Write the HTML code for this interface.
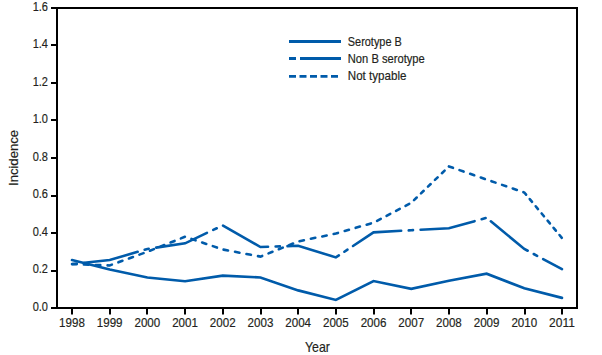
<!DOCTYPE html>
<html><head><meta charset="utf-8">
<style>
html,body{margin:0;padding:0;background:#fff;}
body{width:602px;height:355px;overflow:hidden;}
svg{display:block;}
text{font-family:"Liberation Sans",sans-serif;fill:#231f20;stroke:#231f20;stroke-width:0.18px;}
</style></head>
<body>
<svg width="602" height="355" viewBox="0 0 602 355">
<rect x="57" y="8" width="520" height="300" fill="none" stroke="#000" stroke-width="2"/>
<line x1="51" y1="8" x2="57" y2="8" stroke="#000" stroke-width="2"/>
<line x1="51" y1="45" x2="57" y2="45" stroke="#000" stroke-width="2"/>
<line x1="51" y1="83" x2="57" y2="83" stroke="#000" stroke-width="2"/>
<line x1="51" y1="120" x2="57" y2="120" stroke="#000" stroke-width="2"/>
<line x1="51" y1="158" x2="57" y2="158" stroke="#000" stroke-width="2"/>
<line x1="51" y1="196" x2="57" y2="196" stroke="#000" stroke-width="2"/>
<line x1="51" y1="233" x2="57" y2="233" stroke="#000" stroke-width="2"/>
<line x1="51" y1="271" x2="57" y2="271" stroke="#000" stroke-width="2"/>
<line x1="51" y1="308" x2="57" y2="308" stroke="#000" stroke-width="2"/>
<line x1="72" y1="308" x2="72" y2="314.5" stroke="#000" stroke-width="2"/>
<line x1="110" y1="308" x2="110" y2="314.5" stroke="#000" stroke-width="2"/>
<line x1="147" y1="308" x2="147" y2="314.5" stroke="#000" stroke-width="2"/>
<line x1="185" y1="308" x2="185" y2="314.5" stroke="#000" stroke-width="2"/>
<line x1="223" y1="308" x2="223" y2="314.5" stroke="#000" stroke-width="2"/>
<line x1="261" y1="308" x2="261" y2="314.5" stroke="#000" stroke-width="2"/>
<line x1="298" y1="308" x2="298" y2="314.5" stroke="#000" stroke-width="2"/>
<line x1="336" y1="308" x2="336" y2="314.5" stroke="#000" stroke-width="2"/>
<line x1="374" y1="308" x2="374" y2="314.5" stroke="#000" stroke-width="2"/>
<line x1="411" y1="308" x2="411" y2="314.5" stroke="#000" stroke-width="2"/>
<line x1="449" y1="308" x2="449" y2="314.5" stroke="#000" stroke-width="2"/>
<line x1="487" y1="308" x2="487" y2="314.5" stroke="#000" stroke-width="2"/>
<line x1="525" y1="308" x2="525" y2="314.5" stroke="#000" stroke-width="2"/>
<line x1="562" y1="308" x2="562" y2="314.5" stroke="#000" stroke-width="2"/>
<text x="48" y="10.8" text-anchor="end" font-size="13" textLength="15.3" lengthAdjust="spacingAndGlyphs">1.6</text>
<text x="48" y="48.3" text-anchor="end" font-size="13" textLength="15.3" lengthAdjust="spacingAndGlyphs">1.4</text>
<text x="48" y="85.8" text-anchor="end" font-size="13" textLength="15.3" lengthAdjust="spacingAndGlyphs">1.2</text>
<text x="48" y="123.3" text-anchor="end" font-size="13" textLength="15.3" lengthAdjust="spacingAndGlyphs">1.0</text>
<text x="48" y="160.8" text-anchor="end" font-size="13" textLength="15.3" lengthAdjust="spacingAndGlyphs">0.8</text>
<text x="48" y="198.3" text-anchor="end" font-size="13" textLength="15.3" lengthAdjust="spacingAndGlyphs">0.6</text>
<text x="48" y="235.8" text-anchor="end" font-size="13" textLength="15.3" lengthAdjust="spacingAndGlyphs">0.4</text>
<text x="48" y="273.3" text-anchor="end" font-size="13" textLength="15.3" lengthAdjust="spacingAndGlyphs">0.2</text>
<text x="48" y="310.8" text-anchor="end" font-size="13" textLength="15.3" lengthAdjust="spacingAndGlyphs">0.0</text>
<text x="72.00" y="327" text-anchor="middle" font-size="12.6" textLength="25.8" lengthAdjust="spacingAndGlyphs">1998</text>
<text x="109.69" y="327" text-anchor="middle" font-size="12.6" textLength="25.8" lengthAdjust="spacingAndGlyphs">1999</text>
<text x="147.38" y="327" text-anchor="middle" font-size="12.6" textLength="25.8" lengthAdjust="spacingAndGlyphs">2000</text>
<text x="185.08" y="327" text-anchor="middle" font-size="12.6" textLength="25.8" lengthAdjust="spacingAndGlyphs">2001</text>
<text x="222.77" y="327" text-anchor="middle" font-size="12.6" textLength="25.8" lengthAdjust="spacingAndGlyphs">2002</text>
<text x="260.46" y="327" text-anchor="middle" font-size="12.6" textLength="25.8" lengthAdjust="spacingAndGlyphs">2003</text>
<text x="298.15" y="327" text-anchor="middle" font-size="12.6" textLength="25.8" lengthAdjust="spacingAndGlyphs">2004</text>
<text x="335.85" y="327" text-anchor="middle" font-size="12.6" textLength="25.8" lengthAdjust="spacingAndGlyphs">2005</text>
<text x="373.54" y="327" text-anchor="middle" font-size="12.6" textLength="25.8" lengthAdjust="spacingAndGlyphs">2006</text>
<text x="411.23" y="327" text-anchor="middle" font-size="12.6" textLength="25.8" lengthAdjust="spacingAndGlyphs">2007</text>
<text x="448.92" y="327" text-anchor="middle" font-size="12.6" textLength="25.8" lengthAdjust="spacingAndGlyphs">2008</text>
<text x="486.62" y="327" text-anchor="middle" font-size="12.6" textLength="25.8" lengthAdjust="spacingAndGlyphs">2009</text>
<text x="524.31" y="327" text-anchor="middle" font-size="12.6" textLength="25.8" lengthAdjust="spacingAndGlyphs">2010</text>
<text x="562.00" y="327" text-anchor="middle" font-size="12.6" textLength="25.8" lengthAdjust="spacingAndGlyphs">2011</text>
<text x="317.5" y="351.7" text-anchor="middle" font-size="14.5" textLength="25" lengthAdjust="spacingAndGlyphs">Year</text>
<text transform="translate(17.5,158) rotate(-90)" x="0" y="0" text-anchor="middle" font-size="13.6" textLength="56" lengthAdjust="spacingAndGlyphs">Incidence</text>
<polyline points="72.00,260.00 109.69,269.56 147.38,277.44 185.08,281.28 222.77,275.66 260.46,277.44 298.15,290.38 335.85,299.94 373.54,281.00 411.23,288.88 448.92,280.81 486.62,273.69 524.31,288.31 562.00,297.88" fill="none" stroke="#005baa" stroke-width="2.6" stroke-linecap="round"/>
<polyline points="72.59,264.06 76.84,263.61" fill="none" stroke="#005baa" stroke-width="2.6" stroke-linecap="round"/>
<polyline points="84.36,262.80 109.69,260.09 137.66,251.81" fill="none" stroke="#005baa" stroke-width="2.6" stroke-linecap="round"/>
<polyline points="144.66,249.74 147.38,248.94 148.70,248.74" fill="none" stroke="#005baa" stroke-width="2.6" stroke-linecap="round"/>
<polyline points="156.13,247.63 185.08,243.31 206.93,232.93" fill="none" stroke="#005baa" stroke-width="2.6" stroke-linecap="round"/>
<polyline points="213.22,229.94 216.77,228.25" fill="none" stroke="#005baa" stroke-width="2.6" stroke-linecap="round"/>
<polyline points="223.04,225.56 260.46,247.06 268.04,246.80" fill="none" stroke="#005baa" stroke-width="2.6" stroke-linecap="round"/>
<polyline points="275.63,246.53 279.93,246.38" fill="none" stroke="#005baa" stroke-width="2.6" stroke-linecap="round"/>
<polyline points="287.52,246.12 298.15,245.75 335.85,257.38 338.87,255.37" fill="none" stroke="#005baa" stroke-width="2.6" stroke-linecap="round"/>
<polyline points="344.38,251.71 347.50,249.64" fill="none" stroke="#005baa" stroke-width="2.6" stroke-linecap="round"/>
<polyline points="353.01,245.97 373.54,232.34 401.15,230.76" fill="none" stroke="#005baa" stroke-width="2.6" stroke-linecap="round"/>
<polyline points="408.73,230.33 411.23,230.19 413.02,230.10" fill="none" stroke="#005baa" stroke-width="2.6" stroke-linecap="round"/>
<polyline points="420.60,229.72 448.92,228.31 474.57,221.17" fill="none" stroke="#005baa" stroke-width="2.6" stroke-linecap="round"/>
<polyline points="481.63,219.20 485.63,218.09" fill="none" stroke="#005baa" stroke-width="2.6" stroke-linecap="round"/>
<polyline points="490.84,221.30 524.31,248.94 527.68,250.75" fill="none" stroke="#005baa" stroke-width="2.6" stroke-linecap="round"/>
<polyline points="533.70,253.99 537.12,255.82" fill="none" stroke="#005baa" stroke-width="2.6" stroke-linecap="round"/>
<polyline points="543.14,259.06 562.00,269.19" fill="none" stroke="#005baa" stroke-width="2.6" stroke-linecap="round"/>
<polyline points="72.00,264.12 76.59,264.28" fill="none" stroke="#005baa" stroke-width="2.6" stroke-linecap="round"/>
<polyline points="83.86,264.54 88.45,264.70" fill="none" stroke="#005baa" stroke-width="2.6" stroke-linecap="round"/>
<polyline points="95.72,264.95 100.31,265.11" fill="none" stroke="#005baa" stroke-width="2.6" stroke-linecap="round"/>
<polyline points="107.58,265.36 109.69,265.44 111.90,264.64" fill="none" stroke="#005baa" stroke-width="2.6" stroke-linecap="round"/>
<polyline points="118.36,262.29 122.44,260.81" fill="none" stroke="#005baa" stroke-width="2.6" stroke-linecap="round"/>
<polyline points="128.90,258.46 132.98,256.98" fill="none" stroke="#005baa" stroke-width="2.6" stroke-linecap="round"/>
<polyline points="139.44,254.64 143.52,253.15" fill="none" stroke="#005baa" stroke-width="2.6" stroke-linecap="round"/>
<polyline points="149.93,250.74 153.93,249.15" fill="none" stroke="#005baa" stroke-width="2.6" stroke-linecap="round"/>
<polyline points="160.25,246.63 164.25,245.04" fill="none" stroke="#005baa" stroke-width="2.6" stroke-linecap="round"/>
<polyline points="170.57,242.52 174.57,240.93" fill="none" stroke="#005baa" stroke-width="2.6" stroke-linecap="round"/>
<polyline points="180.90,238.41 184.90,236.82" fill="none" stroke="#005baa" stroke-width="2.6" stroke-linecap="round"/>
<polyline points="191.44,238.90 195.58,240.30" fill="none" stroke="#005baa" stroke-width="2.6" stroke-linecap="round"/>
<polyline points="202.13,242.52 206.27,243.92" fill="none" stroke="#005baa" stroke-width="2.6" stroke-linecap="round"/>
<polyline points="212.82,246.14 216.96,247.54" fill="none" stroke="#005baa" stroke-width="2.6" stroke-linecap="round"/>
<polyline points="223.57,249.65 228.01,250.49" fill="none" stroke="#005baa" stroke-width="2.6" stroke-linecap="round"/>
<polyline points="235.03,251.82 239.47,252.66" fill="none" stroke="#005baa" stroke-width="2.6" stroke-linecap="round"/>
<polyline points="246.50,253.99 250.94,254.82" fill="none" stroke="#005baa" stroke-width="2.6" stroke-linecap="round"/>
<polyline points="257.96,256.15 260.46,256.62 262.20,255.92" fill="none" stroke="#005baa" stroke-width="2.6" stroke-linecap="round"/>
<polyline points="268.51,253.38 272.50,251.78" fill="none" stroke="#005baa" stroke-width="2.6" stroke-linecap="round"/>
<polyline points="278.80,249.24 282.79,247.63" fill="none" stroke="#005baa" stroke-width="2.6" stroke-linecap="round"/>
<polyline points="289.09,245.09 293.08,243.48" fill="none" stroke="#005baa" stroke-width="2.6" stroke-linecap="round"/>
<polyline points="299.51,241.15 303.92,240.23" fill="none" stroke="#005baa" stroke-width="2.6" stroke-linecap="round"/>
<polyline points="310.89,238.78 315.30,237.85" fill="none" stroke="#005baa" stroke-width="2.6" stroke-linecap="round"/>
<polyline points="322.27,236.40 326.68,235.48" fill="none" stroke="#005baa" stroke-width="2.6" stroke-linecap="round"/>
<polyline points="333.65,234.02 335.85,233.56 337.98,232.95" fill="none" stroke="#005baa" stroke-width="2.6" stroke-linecap="round"/>
<polyline points="344.71,231.01 348.96,229.78" fill="none" stroke="#005baa" stroke-width="2.6" stroke-linecap="round"/>
<polyline points="355.69,227.84 359.94,226.61" fill="none" stroke="#005baa" stroke-width="2.6" stroke-linecap="round"/>
<polyline points="366.67,224.67 370.92,223.44" fill="none" stroke="#005baa" stroke-width="2.6" stroke-linecap="round"/>
<polyline points="377.09,220.82 380.76,218.88" fill="none" stroke="#005baa" stroke-width="2.6" stroke-linecap="round"/>
<polyline points="386.57,215.82 390.25,213.88" fill="none" stroke="#005baa" stroke-width="2.6" stroke-linecap="round"/>
<polyline points="396.06,210.81 399.73,208.88" fill="none" stroke="#005baa" stroke-width="2.6" stroke-linecap="round"/>
<polyline points="405.54,205.81 409.22,203.88" fill="none" stroke="#005baa" stroke-width="2.6" stroke-linecap="round"/>
<polyline points="414.02,200.12 416.72,197.51" fill="none" stroke="#005baa" stroke-width="2.6" stroke-linecap="round"/>
<polyline points="420.99,193.39 423.69,190.78" fill="none" stroke="#005baa" stroke-width="2.6" stroke-linecap="round"/>
<polyline points="427.97,186.66 430.67,184.06" fill="none" stroke="#005baa" stroke-width="2.6" stroke-linecap="round"/>
<polyline points="434.94,179.93 437.64,177.33" fill="none" stroke="#005baa" stroke-width="2.6" stroke-linecap="round"/>
<polyline points="441.91,173.20 444.61,170.60" fill="none" stroke="#005baa" stroke-width="2.6" stroke-linecap="round"/>
<polyline points="448.88,166.48 448.92,166.44 452.98,167.85" fill="none" stroke="#005baa" stroke-width="2.6" stroke-linecap="round"/>
<polyline points="459.49,170.12 463.61,171.55" fill="none" stroke="#005baa" stroke-width="2.6" stroke-linecap="round"/>
<polyline points="470.13,173.82 474.24,175.25" fill="none" stroke="#005baa" stroke-width="2.6" stroke-linecap="round"/>
<polyline points="480.76,177.52 484.88,178.96" fill="none" stroke="#005baa" stroke-width="2.6" stroke-linecap="round"/>
<polyline points="491.40,181.21 495.53,182.62" fill="none" stroke="#005baa" stroke-width="2.6" stroke-linecap="round"/>
<polyline points="502.07,184.87 506.20,186.28" fill="none" stroke="#005baa" stroke-width="2.6" stroke-linecap="round"/>
<polyline points="512.73,188.53 516.86,189.94" fill="none" stroke="#005baa" stroke-width="2.6" stroke-linecap="round"/>
<polyline points="523.39,192.19 524.31,192.50 526.10,194.67" fill="none" stroke="#005baa" stroke-width="2.6" stroke-linecap="round"/>
<polyline points="529.75,199.07 532.05,201.86" fill="none" stroke="#005baa" stroke-width="2.6" stroke-linecap="round"/>
<polyline points="535.70,206.27 538.00,209.05" fill="none" stroke="#005baa" stroke-width="2.6" stroke-linecap="round"/>
<polyline points="541.65,213.46 543.95,216.25" fill="none" stroke="#005baa" stroke-width="2.6" stroke-linecap="round"/>
<polyline points="547.60,220.65 549.90,223.44" fill="none" stroke="#005baa" stroke-width="2.6" stroke-linecap="round"/>
<polyline points="553.55,227.85 555.86,230.63" fill="none" stroke="#005baa" stroke-width="2.6" stroke-linecap="round"/>
<polyline points="559.50,235.04 561.81,237.83" fill="none" stroke="#005baa" stroke-width="2.6" stroke-linecap="round"/>
<line x1="289" y1="41.5" x2="341" y2="41.5" stroke="#005baa" stroke-width="2.8"/>
<line x1="289" y1="58.5" x2="341" y2="58.5" stroke="#005baa" stroke-width="2.8" stroke-dasharray="7 4 41 4"/>
<line x1="289" y1="76.4" x2="341" y2="76.4" stroke="#005baa" stroke-width="2.8" stroke-dasharray="7 3.5"/>
<text x="347.8" y="46.1" font-size="12.2" textLength="54" lengthAdjust="spacingAndGlyphs">Serotype B</text>
<text x="347.8" y="63.0" font-size="12.2" textLength="77" lengthAdjust="spacingAndGlyphs">Non B serotype</text>
<text x="347.8" y="79.5" font-size="12.2" textLength="58.6" lengthAdjust="spacingAndGlyphs">Not typable</text>
</svg>
</body></html>
